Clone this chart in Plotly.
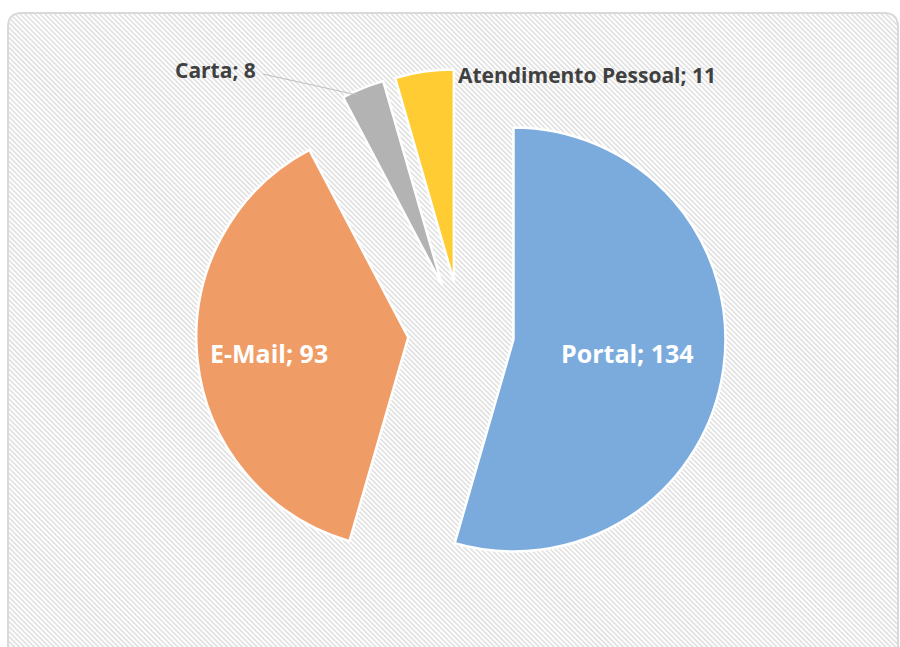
import base64
import re
import plotly.graph_objects as go

# ---- data ----
labels = ["Portal", "E-Mail", "Carta", "Atendimento Pessoal"]
values = [134, 93, 8, 11]
colors = ["#7BABDD", "#F09C66", "#B3B3B3", "#FFCC33"]
pulls = [0.25, 0.25, 0.24, 0.24]

W, H = 900, 647
CX, CY, HALF = 461, 332, 265

fig = go.Figure(go.Pie(
    labels=labels,
    values=values,
    sort=False,
    direction="clockwise",
    rotation=0,
    pull=pulls,
    marker=dict(colors=colors, line=dict(color="white", width=2.5)),
    textinfo="none",
    hoverinfo="label+value",
    showlegend=False,
    domain=dict(x=[(CX - HALF) / W, (CX + HALF) / W],
                y=[1 - (CY + HALF) / H, 1 - (CY - HALF) / H]),
))


def px(x):
    return x / W


def py(y):
    return 1 - y / H


# hatched background inside rounded frame
bx0, by0, bx1, by1 = 8, 13, 898, 665
bw, bh = bx1 - bx0, by1 - by0
svg = (f'<svg xmlns="http://www.w3.org/2000/svg" width="{bw}" height="{bh}">'
       '<defs><pattern id="p" width="3.5" height="3.5" patternUnits="userSpaceOnUse" '
       'patternTransform="rotate(-45)"><rect width="3.5" height="3.5" fill="#ffffff"/>'
       '<rect width="1.5" height="3.5" fill="#dedede"/></pattern></defs>'
       f'<rect x="0" y="0" width="{bw}" height="{bh}" rx="14" ry="14" fill="url(#p)"/></svg>')
src = "data:image/svg+xml;base64," + base64.b64encode(svg.encode()).decode()
fig.add_layout_image(dict(source=src, xref="paper", yref="paper",
                          x=px(bx0), y=py(by0), sizex=bw / W, sizey=bh / H,
                          xanchor="left", yanchor="top", sizing="stretch", layer="below"))

# rounded border
r = 14
path = (f"M {bx0 + r},{by0} L {bx1 - r},{by0} Q {bx1},{by0} {bx1},{by0 + r} "
        f"L {bx1},{by1 - r} Q {bx1},{by1} {bx1 - r},{by1} L {bx0 + r},{by1} "
        f"Q {bx0},{by1} {bx0},{by1 - r} L {bx0},{by0 + r} Q {bx0},{by0} {bx0 + r},{by0} Z")


def conv(m):
    a, b = float(m.group(1)), float(m.group(2))
    return f"{px(a):.5f},{py(b):.5f}"


path_paper = re.sub(r"([\d.]+),([\d.]+)", conv, path)
fig.add_shape(type="path", path=path_paper, xref="paper", yref="paper",
              line=dict(color="#d9d9d9", width=2), layer="below")

# leader line for Carta
fig.add_shape(type="line", xref="paper", yref="paper",
              x0=px(263), y0=py(74), x1=px(357), y1=py(95),
              line=dict(color="#bfbfbf", width=1))

font_in = dict(family="Open Sans, sans-serif", size=25, color="white")
font_out = dict(family="Open Sans, sans-serif", size=21, color="#404040")
ann_pos = [(627, 353, font_in), (269, 353, font_in), (215, 70, font_out), (587, 75, font_out)]
for lab, val, (x, y, f) in zip(labels, values, ann_pos):
    fig.add_annotation(x=px(x), y=py(y), xref="paper", yref="paper",
                       text=f"<b>{lab}; {val}</b>", showarrow=False,
                       font=f, xanchor="center", yanchor="middle")

fig.update_layout(width=W, height=H, margin=dict(l=0, r=0, t=0, b=0),
                  paper_bgcolor="white", plot_bgcolor="white")
fig.write_html("out.html", config={"displayModeBar": False},
               post_script="document.body.style.margin='0';document.body.style.overflow='hidden';")
